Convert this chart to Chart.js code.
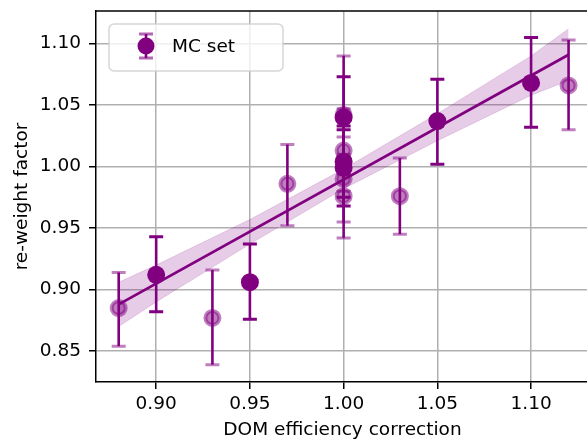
<!DOCTYPE html>
<html>
<head>
<meta charset="utf-8">
<script src="https://cdn.jsdelivr.net/npm/chart.js@4/dist/chart.umd.min.js"></script>
<style>
  html, body { margin: 0; padding: 0; background: #fff; overflow: hidden; }
  #wrap { position: absolute; left: 0; top: 0; width: 600px; height: 443px; }
</style>
</head>
<body>
<div id="wrap"><canvas id="chart"></canvas></div>
<script>
// MC set, full opacity points
const fullX = [0.90, 0.95, 1.00, 1.00, 1.00, 1.05, 1.10];
const fullY = [0.912, 0.906, 1.040, 1.004, 0.999, 1.037, 1.068];
const fullLo = [0.882, 0.876, 1.007, 0.975, 0.968, 1.002, 1.032];
const fullHi = [0.943, 0.937, 1.073, 1.033, 1.030, 1.071, 1.105];

// faded points
const fadedX = [0.88, 0.93, 0.97, 1.00, 1.00, 1.00, 1.00, 1.03, 1.12];
const fadedY = [0.885, 0.877, 0.986, 1.042, 1.013, 0.990, 0.976, 0.976, 1.066];
const fadedLo = [0.854, 0.839, 0.952, 0.994, 0.980, 0.955, 0.942, 0.945, 1.030];
const fadedHi = [0.914, 0.916, 1.018, 1.090, 1.047, 1.024, 1.010, 1.007, 1.103];

// linear fit and its band
const fitX = [0.88, 1.12];
const fitY = [0.888, 1.091];
const bandX = [0.88, 0.90, 0.95, 1.00, 1.05, 1.10, 1.12];
const bandHi = [0.906, 0.920, 0.957, 0.998, 1.043, 1.090, 1.112];
const bandLo = [0.870, 0.890, 0.937, 0.982, 1.021, 1.058, 1.070];

const xTicks = [0.90, 0.95, 1.00, 1.05, 1.10];
const yTicks = [0.85, 0.90, 0.95, 1.00, 1.05, 1.10];

const PURPLE = "rgb(128,0,128)";
const PURPLE_HALF = "rgba(128,0,128,0.5)";
const FONT = "'DejaVu Sans', sans-serif";
const FS = 18.5;

const pts = (xs, ys) => xs.map((x, i) => ({ x: x, y: ys[i] }));

// error bars are drawn just before the markers of their dataset
const errorBars = {
    id: "errorBars",
    beforeDatasetDraw(chart, args) {
        const ds = chart.data.datasets[args.index];
        if (!ds.errLo) return;
        const xs = chart.scales.x, ys = chart.scales.y;
        const ctx = chart.ctx;
        ctx.save();
        ds.data.forEach((p, i) => {
            const px = xs.getPixelForValue(p.x);
            const top = ys.getPixelForValue(ds.errHi[i]);
            const bot = ys.getPixelForValue(ds.errLo[i]);
            ctx.strokeStyle = PURPLE;
            ctx.lineWidth = 2.6;
            ctx.beginPath();
            ctx.moveTo(px, top);
            ctx.lineTo(px, bot);
            ctx.stroke();
            ctx.strokeStyle = ds.capColor;
            ctx.lineWidth = 3;
            ctx.beginPath();
            ctx.moveTo(px - 7, top); ctx.lineTo(px + 7, top);
            ctx.moveTo(px - 7, bot); ctx.lineTo(px + 7, bot);
            ctx.stroke();
        });
        ctx.restore();
    }
};

// top spine + legend box
const frameAndLegend = {
    id: "frameAndLegend",
    afterDraw(chart) {
        const ctx = chart.ctx;
        const a = chart.chartArea;
        ctx.save();
        ctx.strokeStyle = "#000";
        ctx.lineWidth = 1.5;
        ctx.beginPath();
        ctx.moveTo(a.left, a.top);
        ctx.lineTo(a.right, a.top);
        ctx.stroke();

        const bx = a.left + 13, by = a.top + 13, bw = 174, bh = 47;
        ctx.beginPath();
        ctx.roundRect(bx, by, bw, bh, 5);
        ctx.fillStyle = "rgba(255,255,255,0.8)";
        ctx.fill();
        ctx.strokeStyle = "rgba(204,204,204,0.8)";
        ctx.lineWidth = 1.5;
        ctx.stroke();

        const mx = bx + 37, my = by + 22;
        ctx.strokeStyle = PURPLE;
        ctx.lineWidth = 2.6;
        ctx.beginPath();
        ctx.moveTo(mx, my - 12); ctx.lineTo(mx, my + 12);
        ctx.stroke();
        ctx.strokeStyle = "rgba(128,0,128,0.6)";
        ctx.lineWidth = 3;
        ctx.beginPath();
        ctx.moveTo(mx - 7, my - 12); ctx.lineTo(mx + 7, my - 12);
        ctx.moveTo(mx - 7, my + 12); ctx.lineTo(mx + 7, my + 12);
        ctx.stroke();
        ctx.beginPath();
        ctx.arc(mx, my, 8.5, 0, Math.PI * 2);
        ctx.fillStyle = PURPLE;
        ctx.fill();

        ctx.fillStyle = "#000";
        ctx.font = FS + "px " + FONT;
        ctx.textBaseline = "middle";
        ctx.fillText("MC set", bx + 63, my + 1);
        ctx.restore();
    }
};

const ctx = document.getElementById("chart").getContext("2d");
new Chart(ctx, {
    type: "scatter",
    data: {
        datasets: [
            {
                type: "line",
                data: pts(bandX, bandHi),
                borderColor: "rgba(128,0,128,0.15)",
                borderWidth: 1,
                backgroundColor: "rgba(128,0,128,0.2)",
                pointRadius: 0,
                fill: "+1",
                order: 5
            },
            {
                type: "line",
                data: pts(bandX, bandLo),
                borderColor: "rgba(128,0,128,0.15)",
                borderWidth: 1,
                pointRadius: 0,
                fill: false,
                order: 5
            },
            {
                type: "line",
                data: pts(fitX, fitY),
                borderColor: PURPLE,
                borderWidth: 2.8,
                pointRadius: 0,
                fill: false,
                order: 3
            },
            {
                data: pts(fadedX, fadedY),
                errLo: fadedLo,
                errHi: fadedHi,
                capColor: "rgba(128,0,128,0.5)",
                pointRadius: 7,
                borderWidth: 4,
                backgroundColor: PURPLE_HALF,
                borderColor: PURPLE_HALF,
                order: 2
            },
            {
                data: pts(fullX, fullY),
                errLo: fullLo,
                errHi: fullHi,
                capColor: PURPLE,
                pointRadius: 9,
                borderWidth: 0,
                backgroundColor: PURPLE,
                borderColor: PURPLE,
                order: 1
            }
        ]
    },
    options: {
        responsive: true,
        maintainAspectRatio: false,
        animation: false,
        layout: { padding: { top: 10, left: 0, right: 0, bottom: 0 } },
        plugins: {
            legend: { display: false },
            tooltip: { enabled: false }
        },
        scales: {
            x: {
                type: "linear",
                min: 0.8679,
                max: 1.1309,
                afterBuildTicks: (s) => { s.ticks = xTicks.map(v => ({ value: v })); },
                afterFit: (s) => {
                    s.height = 61;
                    s.paddingLeft = 0; s.paddingRight = 0;
                },
                ticks: {
                    color: "#000",
                    padding: 4,
                    maxRotation: 0,
                    autoSkip: false,
                    font: { family: FONT, size: FS },
                    callback: (v) => Number(v).toFixed(2)
                },
                grid: {
                    color: "#b0b0b0",
                    lineWidth: 1.5,
                    tickColor: "#000",
                    tickLength: 7,
                    tickWidth: 1.5
                },
                border: { color: "#000", width: 1.5 },
                title: {
                    display: true,
                    text: "DOM efficiency correction",
                    color: "#000",
                    font: { family: FONT, size: FS },
                    padding: { top: 0, bottom: 2 }
                }
            },
            y: {
                type: "linear",
                min: 0.8249,
                max: 1.1265,
                afterBuildTicks: (s) => { s.ticks = yTicks.map(v => ({ value: v })); },
                afterFit: (s) => {
                    s.width = 96;
                    s.paddingTop = 0; s.paddingBottom = 0;
                },
                ticks: {
                    color: "#000",
                    padding: 8,
                    autoSkip: false,
                    font: { family: FONT, size: FS },
                    callback: (v) => Number(v).toFixed(2)
                },
                grid: {
                    color: "#b0b0b0",
                    lineWidth: 1.5,
                    tickColor: "#000",
                    tickLength: 7,
                    tickWidth: 1.5
                },
                border: { color: "#000", width: 1.5 },
                title: {
                    display: true,
                    text: "re-weight factor",
                    color: "#000",
                    font: { family: FONT, size: FS },
                    padding: { top: 11, bottom: 0 }
                }
            }
        }
    },
    plugins: [errorBars, frameAndLegend]
});
</script>
</body>
</html>
